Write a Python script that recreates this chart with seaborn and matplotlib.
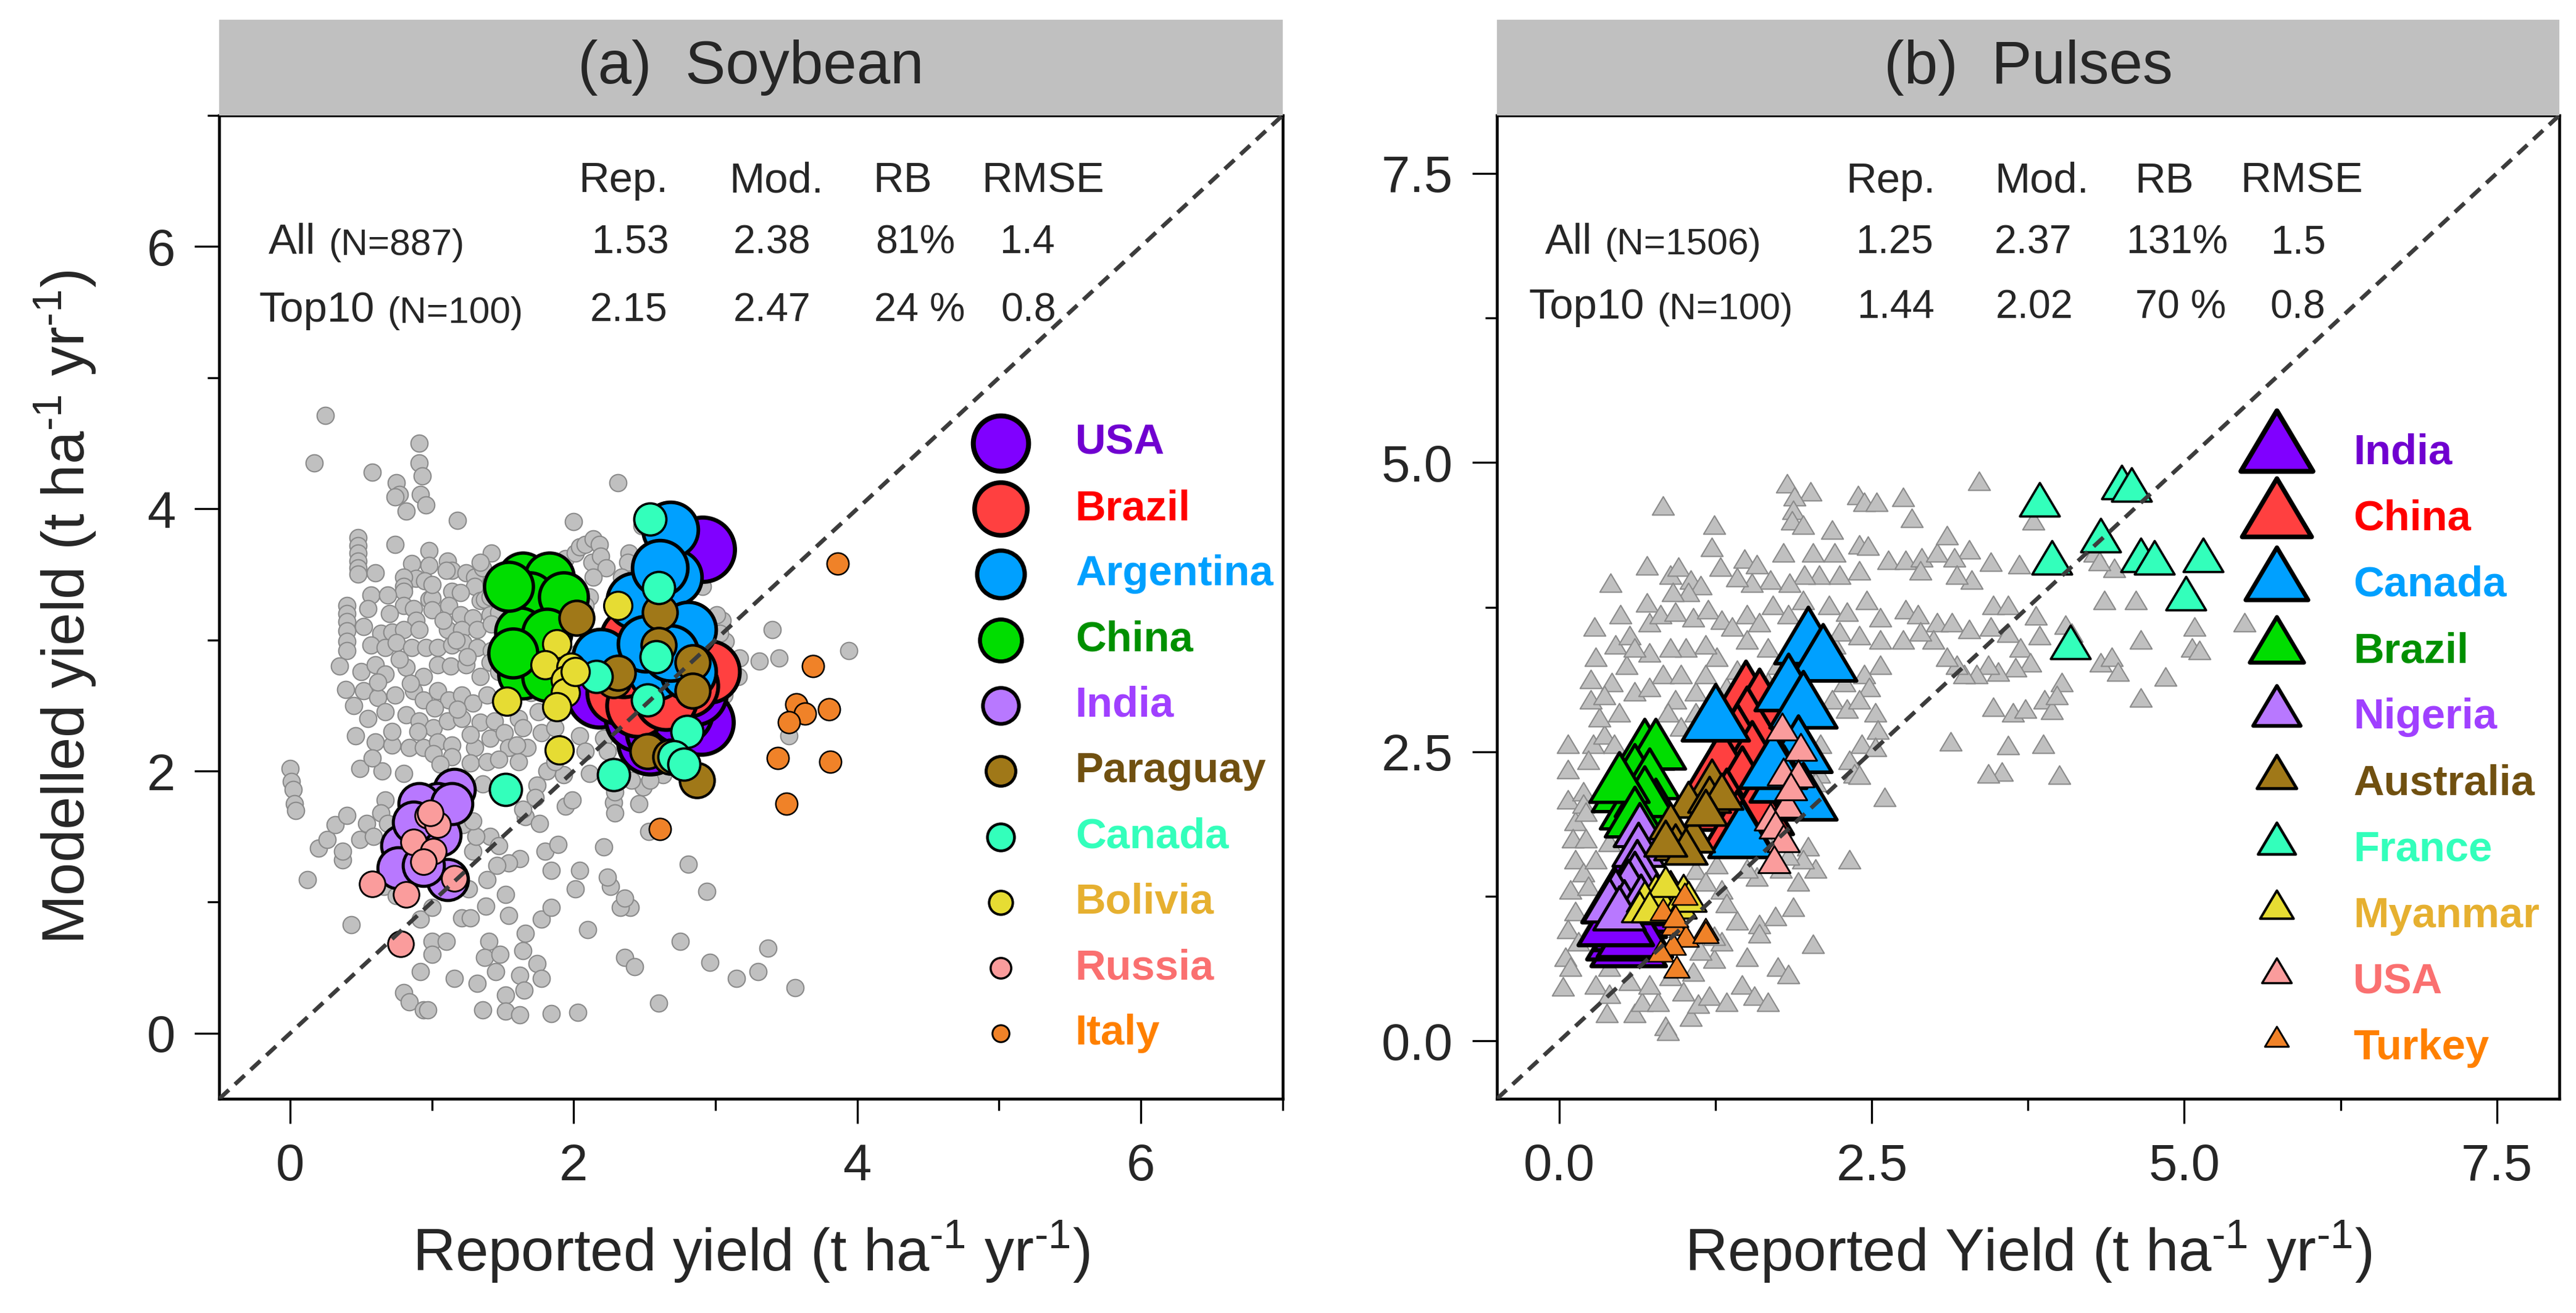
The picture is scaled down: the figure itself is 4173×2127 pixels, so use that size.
import matplotlib
matplotlib.use("Agg")
import matplotlib.pyplot as plt
import seaborn as sns
from matplotlib.path import Path
from matplotlib.ticker import FixedLocator

# ---------------------------------------------------------------- data
# (a) Soybean: all grey points (reported, modelled)
soy_grey_x = [0.25,0.17,0.58,0.91,0.91,0.93,0.75,0.77,0.74,0.92,0.96,0.82,1.18,2.31,2.00,
    0.48,0.48,0.48,0.48,0.48,0.48,0.60,0.74,0.86,0.89,0.98,0.98,1.11,1.14,1.10,1.24,1.30,1.36,1.42,1.30,
    0.80,0.80,0.80,0.57,0.69,0.98,1.00,1.14,1.20,1.34,1.37,1.44,0.40,0.40,0.40,0.40,0.40,0.40,0.55,0.80,
    0.87,0.89,1.00,1.12,1.20,1.29,1.41,1.47,0.64,0.72,0.80,0.91,1.11,1.21,1.32,1.42,0.57,0.67,0.75,0.86,
    0.96,1.04,1.14,1.22,1.32,1.42,0.50,0.60,0.67,0.82,0.94,1.04,1.13,1.24,1.34,1.41,0.39,0.52,0.62,0.74,
    0.87,0.94,1.04,1.12,1.21,1.29,1.39,0.55,0.67,0.82,0.91,1.01,1.11,1.21,1.34,1.44,0.46,0.60,0.72,0.84,
    0.94,1.04,1.14,1.30,1.41,0.49,0.65,0.80,1.01,1.14,1.27,1.39,1.36,1.47,1.57,1.51,1.61,1.51,1.64,1.54,
    1.67,1.47,1.61,1.77,1.87,1.81,1.93,2.04,2.08,2.11,2.21,2.24,1.74,1.87,1.94,2.01,2.04,2.08,2.13,2.14,
    2.18,2.19,2.23,2.14,2.11,1.88,1.89,1.81,1.41,1.34,2.39,2.38,2.34,1.42,3.05,3.40,3.31,3.45,3.17,3.16,
    3.07,3.05,3.94,3.52,3.06,0.00,0.01,0.02,0.03,0.04,0.12,0.20,0.26,0.32,0.37,0.37,0.40,0.49,0.54,0.59,
    0.67,0.64,0.69,0.43,0.66,0.75,0.92,1.00,1.00,1.00,1.10,0.92,0.80,0.84,0.94,0.97,1.16,1.21,1.27,1.32,
    1.36,1.38,1.40,1.37,1.45,1.48,1.52,1.52,1.54,1.52,1.62,1.62,1.65,1.66,1.64,1.74,1.77,1.77,1.84,1.84,
    2.03,2.10,2.36,2.43,2.60,2.75,2.96,3.15,3.30,3.37,3.56,2.94,2.81,2.40,2.33,2.36,2.26,2.24,2.01,2.04,
    1.84,1.80,1.89,2.21,1.62,1.54,1.46,1.41,1.47,1.39,1.29,1.31,1.22,1.29,1.66,1.76,1.64,1.73,1.94,1.99,
    2.28,2.29,2.46,2.49,2.63,2.54,2.53,2.29,1.26,3.01,3.03,2.81,2.91,2.48,2.41,2.11,2.14,2.21,2.03,2.31,
    2.08,2.31,0.52,0.70,0.95,1.08,1.25,0.62,0.85,1.02,1.18,0.45,0.72,1.06,1.27,0.58,0.90,1.17,0.35,0.77,
    1.00,1.55,1.70,1.60,1.75]
soy_grey_y = [4.71,4.35,4.28,4.50,4.35,4.25,4.20,4.11,4.09,4.11,4.03,3.98,3.91,4.20,3.90,
    3.78,3.72,3.66,3.60,3.55,3.50,3.51,3.73,3.58,3.47,3.68,3.57,3.60,3.53,3.53,3.51,3.48,3.55,3.66,3.41,
    3.48,3.41,3.37,3.34,3.34,3.31,3.32,3.37,3.36,3.30,3.31,3.33,3.26,3.20,3.14,3.07,2.99,2.92,3.24,3.26,
    3.24,3.15,3.23,3.26,3.19,3.17,3.19,3.21,3.05,3.06,3.08,3.08,3.08,3.08,3.08,3.12,2.96,2.94,2.98,2.94,
    2.94,2.94,2.96,2.98,2.94,2.92,2.76,2.81,2.74,2.79,2.72,2.81,2.80,2.81,2.72,2.83,2.62,2.61,2.56,2.58,
    2.61,2.54,2.61,2.54,2.58,2.52,2.58,2.40,2.45,2.43,2.38,2.33,2.38,2.40,2.37,2.38,2.27,2.22,2.20,2.18,
    2.18,2.22,2.20,2.18,2.25,2.02,2.00,1.98,2.13,2.11,2.06,2.07,1.90,2.76,2.69,2.54,2.40,2.29,2.33,2.18,
    2.18,2.09,2.07,2.29,2.33,2.00,1.97,2.27,2.15,1.98,2.25,2.15,1.89,2.07,3.62,3.66,3.71,3.73,3.59,3.77,
    3.73,3.64,3.55,3.48,3.33,3.55,3.44,3.48,3.33,3.59,3.66,3.59,3.48,3.42,3.15,3.08,2.84,2.86,2.86,2.72,
    2.99,2.90,2.92,2.27,2.58,2.02,1.92,1.86,1.75,1.70,1.17,1.41,1.48,1.59,1.32,1.39,1.66,1.48,1.60,1.50,
    1.78,1.68,1.60,0.83,1.12,1.05,0.87,0.96,0.70,0.60,0.70,0.47,0.31,0.24,0.18,0.18,0.42,0.88,0.88,0.38,
    0.18,0.97,0.70,0.58,0.47,0.60,0.29,0.17,0.90,1.06,0.14,0.44,0.33,0.76,0.63,0.53,0.42,0.87,0.96,0.15,
    0.16,0.79,0.58,0.51,0.23,0.70,0.54,0.42,0.47,0.65,0.35,1.08,1.29,0.96,0.96,1.03,1.12,1.19,1.10,1.24,
    1.24,1.39,1.44,1.42,1.33,1.30,1.28,1.50,1.43,1.17,1.39,1.50,1.59,1.62,1.65,1.60,1.71,1.80,1.73,1.78,
    1.76,1.68,1.75,1.88,1.97,1.93,1.54,1.84,1.10,3.19,3.05,3.51,3.41,3.87,1.93,2.54,2.72,2.83,2.90,2.90,
    3.26,3.33,3.10,3.20,3.45,3.15,2.87,2.68,2.67,2.48,2.47,2.50,2.30,2.05,2.28,2.10,2.30,3.00,2.80,2.85,
    3.42,3.00,2.60,2.20,2.45]

# (a) Soybean: top-10 countries
soy_countries = ["USA", "Brazil", "Argentina", "China", "India",
                 "Paraguay", "Canada", "Bolivia", "Russia", "Italy"]
soy_usa_x = [2.91, 2.90, 2.54, 2.18, 2.45, 2.60, 2.75, 2.85, 2.50, 2.65]
soy_usa_y = [3.69, 2.37, 2.22, 2.58, 2.40, 2.30, 2.45, 2.60, 2.65, 2.75]
soy_bra_x = [2.41, 2.95, 2.31, 2.55, 2.70, 2.45, 2.60, 2.80, 2.35, 2.65]
soy_bra_y = [3.01, 2.76, 2.60, 2.70, 2.85, 2.50, 3.05, 2.65, 2.80, 2.55]
soy_arg_x = [2.71, 2.68, 2.81, 2.43, 2.19, 2.58, 2.81, 2.61, 2.51, 2.68]
soy_arg_y = [3.48, 3.84, 3.08, 3.30, 2.87, 2.76, 2.76, 3.55, 2.97, 2.90]
soy_chn_x = [1.64, 1.83, 1.69, 1.93, 1.62, 1.81, 1.64, 1.81, 1.54, 1.57]
soy_chn_y = [3.48, 3.48, 3.33, 3.33, 3.06, 3.05, 2.74, 2.72, 3.41, 2.90]
soy_ind_x = [1.16, 1.04, 0.91, 0.79, 0.76, 1.11, 1.06, 0.94, 1.14, 0.87]
soy_ind_y = [1.86, 1.75, 1.75, 1.43, 1.26, 1.17, 1.51, 1.28, 1.75, 1.61]
soy_pry_x = [2.02, 2.61, 2.60, 2.84, 2.84, 2.28, 2.52, 2.87, 2.68, 2.31]
soy_pry_y = [3.17, 3.21, 2.96, 2.83, 2.61, 2.69, 2.15, 1.93, 2.11, 2.75]
soy_can_x = [2.54, 2.60, 2.58, 2.16, 2.52, 2.80, 2.71, 2.28, 1.52, 2.78]
soy_can_y = [3.92, 3.40, 2.87, 2.72, 2.54, 2.30, 2.11, 1.97, 1.86, 2.05]
soy_bol_x = [2.31, 1.88, 1.80, 1.98, 1.94, 1.94, 1.88, 1.53, 1.90, 2.01]
soy_bol_y = [3.26, 2.97, 2.81, 2.79, 2.69, 2.60, 2.49, 2.53, 2.16, 2.76]
soy_rus_x = [0.97, 1.04, 0.87, 1.01, 0.94, 0.58, 0.82, 1.16, 0.78, 0.99]
soy_rus_y = [1.66, 1.59, 1.46, 1.39, 1.31, 1.14, 1.06, 1.18, 0.68, 1.68]
soy_ita_x = [3.86, 3.69, 3.57, 3.63, 3.80, 3.52, 3.44, 3.81, 3.50, 2.61]
soy_ita_y = [3.58, 2.80, 2.51, 2.44, 2.47, 2.37, 2.10, 2.07, 1.75, 1.56]

soy_stat_cols = ["Rep.", "Mod.", "RB", "RMSE"]
soy_stat_all = ["1.53", "2.38", "81%", "1.4"]
soy_stat_top = ["2.15", "2.47", "24 %", "0.8"]
soy_n = ["(N=887)", "(N=100)"]

# (b) Pulses: all grey points
pul_grey_x = [1.82,2.01,1.88,1.87,1.86,1.95,2.39,2.44,2.54,2.75,2.82,0.83,1.24,2.18,1.22,0.70,0.41,0.89,
    0.95,1.05,1.29,1.48,1.58,1.79,2.03,2.20,2.40,2.47,2.63,2.77,2.90,3.02,3.10,3.28,3.16,3.45,3.68,3.30,
    3.18,2.89,2.40,2.24,2.08,1.96,1.84,1.69,1.54,1.42,1.13,1.03,0.91,0.70,0.49,0.28,0.29,0.45,0.56,0.72,
    0.81,0.93,1.07,1.19,1.30,1.38,1.50,1.60,1.71,1.83,1.95,2.16,2.30,2.46,2.57,2.77,2.87,3.02,3.14,3.28,
    3.47,3.59,3.81,3.84,3.45,3.59,3.69,3.77,3.65,3.51,3.43,3.34,3.24,3.18,3.10,2.99,2.89,2.75,2.57,2.57,
    2.44,2.48,2.28,2.20,2.40,2.24,2.03,1.99,2.18,2.30,2.40,2.53,2.55,2.42,2.53,2.32,2.36,2.40,2.09,2.08,
    2.05,2.60,2.32,3.47,3.63,3.73,3.88,3.94,3.87,3.59,3.54,3.43,4.00,3.13,4.02,3.98,4.33,4.42,4.47,4.65,
    4.65,4.85,5.08,5.06,5.12,5.48,4.36,4.61,3.79,4.28,4.44,4.32,4.10,3.36,4.05,0.07,0.07,0.07,0.19,0.13,
    0.11,0.21,0.13,0.19,0.09,0.13,0.07,0.05,0.09,0.03,0.29,0.40,0.38,0.60,0.66,0.85,0.87,0.79,1.05,0.99,
    1.11,1.20,1.34,1.46,1.56,1.67,1.75,1.83,1.50,1.60,1.73,1.60,1.42,1.87,1.24,1.30,2.03,1.30,1.58,1.50,
    1.77,1.99,2.05,1.95,0.27,0.23,0.36,0.32,0.25,0.25,0.42,0.36,0.48,0.44,0.54,0.60,0.72,0.83,0.93,0.97,
    1.09,1.17,1.26,1.17,1.01,0.89,0.72,0.60,1.34,1.42,1.50,1.67,1.75,1.67,1.09,1.19,0.97,0.87,0.19,0.21,
    0.40,0.29,0.23,0.36,0.23,0.15,0.32,0.40,0.56,0.72,0.89,1.07,1.13,1.24,1.09,1.26,1.17,1.52,1.65,1.83,
    1.91,1.34,0.60,0.40,0.54,0.52]
pul_grey_y = [4.82,4.75,4.71,4.59,4.50,4.46,4.72,4.66,4.66,4.70,4.52,4.63,4.46,4.42,4.27,4.11,3.96,4.03,
    4.10,3.99,4.10,4.17,4.12,4.22,4.22,4.22,4.29,4.28,4.16,4.16,4.18,4.22,4.37,4.25,4.18,4.14,4.12,3.99,
    4.03,4.07,4.07,4.03,4.03,4.03,3.96,3.99,3.96,4.01,3.94,3.88,3.88,3.79,3.69,3.58,3.32,3.43,3.51,3.62,
    3.69,3.71,3.66,3.73,3.64,3.58,3.69,3.62,3.77,3.69,3.81,3.77,3.71,3.81,3.66,3.73,3.69,3.62,3.62,3.56,
    3.77,3.77,3.68,3.51,3.58,3.53,3.40,3.27,3.23,3.19,3.25,3.17,3.17,3.25,3.32,3.47,3.54,3.47,3.47,3.25,
    3.17,3.06,3.10,3.43,3.51,3.54,3.32,3.54,2.95,2.87,2.95,2.84,2.69,2.57,2.54,2.43,2.31,2.30,2.57,2.31,
    2.24,2.11,1.57,2.89,2.84,2.87,2.95,2.86,2.57,2.56,2.33,2.31,2.30,2.59,3.10,2.99,3.27,3.32,3.19,3.47,
    2.97,3.15,3.58,3.40,3.38,3.62,3.81,3.81,4.50,4.22,4.09,4.15,3.53,4.84,3.60,2.57,2.35,2.09,2.16,1.90,
    1.75,1.75,1.57,1.46,1.31,1.12,0.97,0.73,0.64,0.47,0.49,0.41,0.24,0.24,0.34,0.13,0.09,0.34,0.21,0.43,
    0.32,0.39,0.34,0.49,0.39,0.34,0.64,0.58,0.73,1.01,1.08,0.93,1.04,1.16,0.71,0.86,0.84,1.31,1.42,1.49,
    1.49,1.68,1.49,1.57,2.57,2.43,2.65,2.80,2.95,3.13,3.10,2.99,2.84,2.57,3.25,3.02,3.06,3.17,2.95,3.17,
    3.02,3.17,3.32,3.43,3.40,3.40,3.36,3.40,3.06,3.21,3.47,3.40,3.25,3.10,2.84,2.72,2.72,2.84,2.05,1.98,
    1.72,1.57,1.34,1.19,0.93,0.86,0.78,0.64,0.52,0.49,0.56,0.60,0.78,0.91,1.48,1.53,1.38,1.68,1.75,1.60,
    1.38,1.19,2.05,2.16,2.28,2.39]

# (b) Pulses: top-10 countries
pul_countries = ["India", "China", "Canada", "Brazil", "Nigeria",
                 "Australia", "France", "Myanmar", "USA", "Turkey"]
pul_ind_x = [0.55, 0.52, 0.57, 0.50, 0.55, 0.60, 0.62, 0.48, 0.60, 0.45]
pul_ind_y = [0.92, 0.98, 1.06, 1.12, 1.17, 1.22, 1.28, 1.30, 1.00, 1.10]
pul_chn_x = [1.49, 1.60, 1.50, 1.42, 1.54, 1.30, 1.46, 1.34, 1.58, 1.42]
pul_chn_y = [3.02, 2.95, 2.80, 2.65, 2.50, 2.43, 2.28, 2.09, 2.05, 1.90]
pul_can_x = [1.99, 2.11, 1.83, 1.95, 1.25, 1.91, 1.79, 1.95, 1.46, 1.71]
pul_can_y = [3.51, 3.36, 3.10, 2.95, 2.84, 2.57, 2.31, 2.16, 1.83, 2.43]
pul_bra_x = [0.68, 0.77, 0.60, 0.72, 0.50, 0.56, 0.77, 0.68, 0.48, 0.60]
pul_bra_y = [2.57, 2.57, 2.35, 2.31, 2.20, 2.05, 2.05, 2.16, 2.28, 1.98]
pul_nga_x = [0.64, 0.63, 0.62, 0.60, 0.55, 0.45, 0.40, 0.52, 0.65, 0.48]
pul_nga_y = [1.87, 1.70, 1.55, 1.45, 1.38, 1.30, 1.22, 1.20, 1.25, 1.15]
pul_aus_x = [1.22, 1.03, 1.20, 0.89, 1.07, 0.93, 1.30, 1.01, 1.17, 0.85]
pul_aus_y = [2.28, 2.09, 2.13, 1.90, 1.79, 1.72, 2.16, 1.68, 2.02, 1.75]
pul_fra_x = [3.84, 4.50, 4.58, 4.33, 3.94, 4.65, 4.76, 5.15, 5.01, 4.09]
pul_fra_y = [4.68, 4.83, 4.81, 4.37, 4.18, 4.20, 4.18, 4.20, 3.87, 3.45]
pul_mmr_x = [0.77, 0.89, 0.68, 0.99, 0.81, 0.64, 0.95, 0.85, 0.72, 1.03]
pul_mmr_y = [1.31, 1.34, 1.25, 1.31, 1.23, 1.16, 1.19, 1.38, 1.16, 1.25]
pul_usa_x = [1.78, 1.93, 1.79, 1.91, 1.82, 1.69, 1.73, 1.79, 1.72, 1.85]
pul_usa_y = [2.72, 2.54, 2.33, 2.31, 2.05, 1.94, 1.87, 1.75, 1.57, 2.20]
pul_tur_x = [1.00, 0.83, 0.92, 1.17, 1.01, 0.91, 0.81, 0.94, 0.93, 1.17]
pul_tur_y = [1.27, 1.14, 1.01, 0.97, 0.91, 0.84, 0.78, 0.64, 1.08, 0.94]

pul_stat_cols = ["Rep.", "Mod.", "RB", "RMSE"]
pul_stat_all = ["1.25", "2.37", "131%", "1.5"]
pul_stat_top = ["1.44", "2.02", "70 %", "0.8"]
pul_n = ["(N=1506)", "(N=100)"]

soy_sets = [(soy_usa_x, soy_usa_y), (soy_bra_x, soy_bra_y), (soy_arg_x, soy_arg_y),
            (soy_chn_x, soy_chn_y), (soy_ind_x, soy_ind_y), (soy_pry_x, soy_pry_y),
            (soy_can_x, soy_can_y), (soy_bol_x, soy_bol_y), (soy_rus_x, soy_rus_y),
            (soy_ita_x, soy_ita_y)]
pul_sets = [(pul_ind_x, pul_ind_y), (pul_chn_x, pul_chn_y), (pul_can_x, pul_can_y),
            (pul_bra_x, pul_bra_y), (pul_nga_x, pul_nga_y), (pul_aus_x, pul_aus_y),
            (pul_fra_x, pul_fra_y), (pul_mmr_x, pul_mmr_y), (pul_usa_x, pul_usa_y),
            (pul_tur_x, pul_tur_y)]

# ---------------------------------------------------------------- style
fill_cols = ["#8000FF", "#FF4040", "#00A0FF", "#00DD00", "#B878FF",
             "#A07818", "#33FFBB", "#E6DC33", "#FA9C9C", "#F08228"]
text_cols = ["#7000D0", "#FF0000", "#00A0FF", "#009000", "#A040FF",
             "#705010", "#33FFBB", "#E6B030", "#FA7070", "#FF8000"]
soy_size = [25, 24, 21.5, 19, 16, 13.5, 12.5, 11, 10, 8.5]
soy_leg_size = [21.5, 20.5, 18.5, 16.3, 14, 11.5, 10.5, 9.2, 8, 6.6]
pul_size = [29, 28, 26, 23, 20, 16.5, 15.5, 14, 12.5, 10]
pul_leg_size = [28, 27, 24.3, 21.1, 18.5, 15.4, 14.6, 13, 11.5, 9.3]
edge_lw = [1.6, 1.5, 1.4, 1.3, 1.2, 1.0, 0.9, 0.8, 0.7, 0.6]

sns.set_theme(style="ticks")
plt.rcParams["font.family"] = ["Liberation Sans", "DejaVu Sans"]
plt.rcParams["mathtext.fontset"] = "custom"
plt.rcParams["mathtext.rm"] = "Liberation Sans"
plt.rcParams["mathtext.default"] = "regular"

tri = Path([(0, 1), (-1.19, -1), (1.19, -1), (0, 1)],
           [Path.MOVETO, Path.LINETO, Path.LINETO, Path.CLOSEPOLY])

W, H = 4173, 2127
fig = plt.figure(figsize=(W / 300, H / 300), dpi=300)
ax_bot, ax_h = 0.1631, 0.749
hdr_h = 0.0729
axL = fig.add_axes([0.0851, ax_bot, 0.4128, ax_h])
axR = fig.add_axes([0.5811, ax_bot, 0.4124, ax_h])
hdrL = fig.add_axes([0.0851, ax_bot + ax_h, 0.4128, hdr_h])
hdrR = fig.add_axes([0.5811, ax_bot + ax_h, 0.4124, hdr_h])

for hdr, title in [(hdrL, "(a)  Soybean"), (hdrR, "(b)  Pulses")]:
    hdr.set_facecolor("#C0C0C0")
    hdr.set_xticks([]); hdr.set_yticks([])
    for s in hdr.spines.values():
        s.set_visible(False)
    hdr.text(0.5, 0.5, title, ha="center", va="center", fontsize=23.5,
             transform=hdr.transAxes)

unit = r"(t ha$^{\text{-}1}$ yr$^{\text{-}1}$)"


def style_axes(ax, lim, major, minor):
    ax.set_xlim(*lim); ax.set_ylim(*lim)
    ax.xaxis.set_major_locator(FixedLocator(major))
    ax.yaxis.set_major_locator(FixedLocator(major))
    ax.xaxis.set_minor_locator(FixedLocator(minor))
    ax.yaxis.set_minor_locator(FixedLocator(minor))
    ax.tick_params(which="both", direction="out", width=0.8, color="black",
                   top=False, right=False, labelsize=20, pad=7.5)
    ax.tick_params(which="major", length=9.5)
    ax.tick_params(which="minor", length=4.5)
    for s in ax.spines.values():
        s.set_visible(True); s.set_linewidth(1.1); s.set_color("black")
    ax.set_facecolor("white")
    ax.grid(False)
    ax.axline((0, 0), slope=1, color="#3C3C3C", lw=1.6, dashes=(3.2, 2.0), zorder=20)


# ---------------- (a) Soybean
sns.scatterplot(x=soy_grey_x, y=soy_grey_y, ax=axL, s=44, color="#C0C0C0",
                edgecolor="#8A8A8A", linewidth=0.5, zorder=2, legend=False)
for i, (xs, ys) in enumerate(soy_sets):
    sns.scatterplot(x=xs, y=ys, ax=axL, s=soy_size[i] ** 2, color=fill_cols[i],
                    edgecolor="black", linewidth=edge_lw[i], zorder=3 + i, legend=False)
style_axes(axL, (-0.5, 7), [0, 2, 4, 6], [1, 3, 5, 7])
axL.set_xticklabels(["0", "2", "4", "6"])
axL.set_yticklabels(["0", "2", "4", "6"])
axL.set_xlabel("Reported yield " + unit, fontsize=23, labelpad=11)
axL.set_ylabel("Modelled yield " + unit, fontsize=23, labelpad=19)

for i, name in enumerate(soy_countries):
    yy = 0.6667 - i * 0.0667
    axL.scatter([0.735], [yy], s=soy_leg_size[i] ** 2, color=fill_cols[i],
                edgecolor="black", linewidth=edge_lw[i] * 1.2,
                transform=axL.transAxes, zorder=30, clip_on=False)
    axL.text(0.805, yy, name, color=text_cols[i], fontsize=16.5, fontweight="bold",
             ha="left", va="center", transform=axL.transAxes, zorder=30)

# table (a)
for x, t in zip([2.35, 3.43, 4.32, 5.31], soy_stat_cols):
    axL.text(x, 6.50, t, ha="center", va="center", fontsize=16.5)
for x, t in zip([2.40, 3.40, 4.41, 5.20], soy_stat_all):
    axL.text(x, 6.03, t, ha="center", va="center", fontsize=15.5)
for x, t in zip([2.39, 3.40, 4.44, 5.21], soy_stat_top):
    axL.text(x, 5.51, t, ha="center", va="center", fontsize=15.5)
axL.text(0.18, 6.03, "All", ha="right", va="center", fontsize=16.5)
axL.text(0.27, 6.01, soy_n[0], ha="left", va="center", fontsize=14.5)
axL.text(0.595, 5.51, "Top10", ha="right", va="center", fontsize=16.5)
axL.text(0.685, 5.49, soy_n[1], ha="left", va="center", fontsize=14.5)

# ---------------- (b) Pulses
sns.scatterplot(x=pul_grey_x, y=pul_grey_y, ax=axR, s=8.5 ** 2, marker=tri,
                color="#C0C0C0", edgecolor="#8A8A8A", linewidth=0.5, zorder=2, legend=False)
for i, (xs, ys) in enumerate(pul_sets):
    sns.scatterplot(x=xs, y=ys, ax=axR, s=pul_size[i] ** 2, marker=tri, color=fill_cols[i],
                    edgecolor="black", linewidth=edge_lw[i], zorder=3 + i, legend=False)
style_axes(axR, (-0.5, 8), [0, 2.5, 5, 7.5], [1.25, 3.75, 6.25])
axR.set_xticklabels(["0.0", "2.5", "5.0", "7.5"])
axR.set_yticklabels(["0.0", "2.5", "5.0", "7.5"])
axR.set_xlabel("Reported Yield " + unit, fontsize=23, labelpad=11)

for i, name in enumerate(pul_countries):
    yy = 0.669 - i * 0.0673
    axR.scatter([0.734], [yy], s=pul_leg_size[i] ** 2, marker=tri, color=fill_cols[i],
                edgecolor="black", linewidth=edge_lw[i] * 1.2,
                transform=axR.transAxes, zorder=30, clip_on=False)
    axR.text(0.806, yy - 0.012, name, color=text_cols[i], fontsize=16.5, fontweight="bold",
             ha="left", va="center", transform=axR.transAxes, zorder=30)

# table (b)
for x, t in zip([2.65, 3.86, 4.84, 5.94], pul_stat_cols):
    axR.text(x, 7.43, t, ha="center", va="center", fontsize=16.5)
for x, t in zip([2.68, 3.79, 4.94, 5.91], pul_stat_all):
    axR.text(x, 6.90, t, ha="center", va="center", fontsize=15.5)
for x, t in zip([2.69, 3.80, 4.97, 5.91], pul_stat_top):
    axR.text(x, 6.34, t, ha="center", va="center", fontsize=15.5)
axR.text(0.26, 6.90, "All", ha="right", va="center", fontsize=16.5)
axR.text(0.36, 6.88, pul_n[0], ha="left", va="center", fontsize=14.5)
axR.text(0.68, 6.34, "Top10", ha="right", va="center", fontsize=16.5)
axR.text(0.78, 6.32, pul_n[1], ha="left", va="center", fontsize=14.5)

fig.savefig("out.png", dpi=300, facecolor="white")
